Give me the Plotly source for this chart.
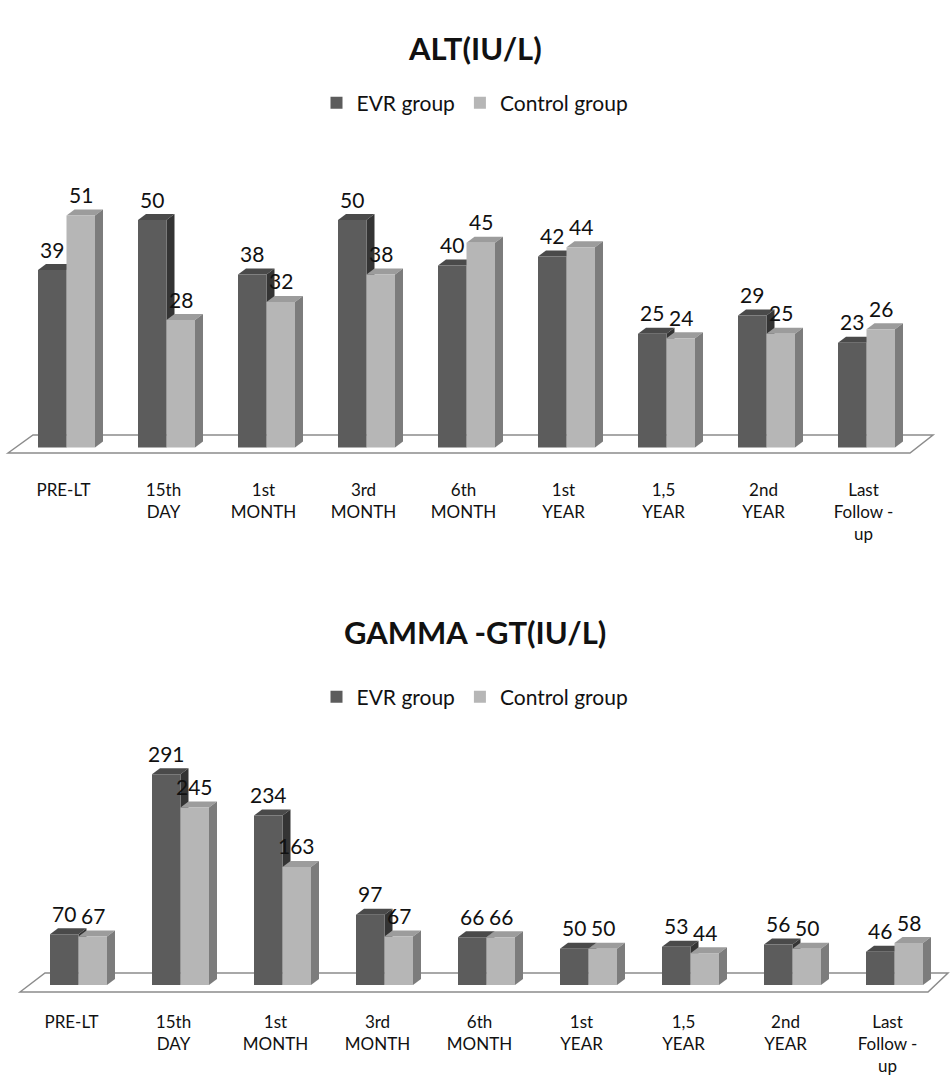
import plotly.graph_objects as go

# ---- data -------------------------------------------------------------
categories = ["PRE-LT", "15th<br>DAY", "1st<br>MONTH", "3rd<br>MONTH", "6th<br>MONTH",
              "1st<br>YEAR", "1,5<br>YEAR", "2nd<br>YEAR", "Last<br>Follow -<br>up"]
series_names = ["EVR group", "Control group"]

alt_evr = [39, 50, 38, 50, 40, 42, 25, 29, 23]
alt_control = [51, 28, 32, 38, 45, 44, 24, 25, 26]

ggt_evr = [70, 291, 234, 97, 66, 50, 53, 56, 46]
ggt_control = [67, 245, 163, 67, 66, 50, 44, 50, 58]

# ---- styling ----------------------------------------------------------
W, H = 950, 1088
FONT = "Lato, 'Open Sans', sans-serif"
FRONT = ["#5c5c5c", "#b6b6b6"]
TOP = ["#4a4a4a", "#9c9c9c"]
SIDE = ["#343434", "#7c7c7c"]
FLOOR_LINE = "#8c8c8c"
DEPTH_X, DEPTH_Y = 8, 6          # pixel depth of the pseudo-3D columns
BAR_PX = 28.5                    # pixel width of one column face
LABEL_LIFT = 21                  # value label distance above a column

panels = [
    dict(title="ALT(IU/L)", values=[alt_evr, alt_control],
         c0=66.5, step=100, base=447.5, ppu=4.55, top=130, bottom=478,
         title_y=48, legend_y=103, tick_shift=-3,
         floor=dict(fl=8, bl=33, br=933, fr=910, front=453, back=435)),
    dict(title="GAMMA -GT(IU/L)", values=[ggt_evr, ggt_control],
         c0=78.5, step=102, base=985, ppu=0.724, top=700, bottom=1010,
         title_y=632, legend_y=697, tick_shift=-7,
         floor=dict(fl=20, bl=45, br=948, fr=928, front=992, back=973)),
]

fig = go.Figure()
shapes, annotations = [], []
layout_axes = {}

for p_i, p in enumerate(panels):
    sfx = "" if p_i == 0 else str(p_i + 1)
    xa, ya = "x" + sfx, "y" + sfx
    lg = "legend" + sfx
    step, ppu, base = p["step"], p["ppu"], p["base"]

    # pixel -> data helpers for this panel
    def px_x(px, c0=p["c0"], step=step):
        return (px - c0) / step

    def px_y(py, base=base, ppu=ppu):
        return (base - py) / ppu

    w = BAR_PX / step
    dx = DEPTH_X / step
    dy = DEPTH_Y / ppu
    idx = list(range(len(categories)))

    # floor plane
    f = p["floor"]
    shapes.append(dict(
        type="path", xref=xa, yref=ya, layer="below",
        path=(f"M{px_x(f['fl'])},{px_y(f['front'])} L{px_x(f['bl'])},{px_y(f['back'])} "
              f"L{px_x(f['br'])},{px_y(f['back'])} L{px_x(f['fr'])},{px_y(f['front'])} Z"),
        fillcolor="white", line=dict(color=FLOOR_LINE, width=1.5)))

    for s, vals in enumerate(p["values"]):
        offset = -w if s == 0 else 0.0
        fig.add_trace(go.Bar(
            x=idx, y=vals, width=w, offset=offset, name=series_names[s],
            marker=dict(color=FRONT[s], line=dict(width=0)),
            xaxis=xa, yaxis=ya, legend=lg, hoverinfo="skip"))
        for i, v in zip(idx, vals):
            xl = i + offset
            xr = xl + w
            # top face
            shapes.append(dict(
                type="path", xref=xa, yref=ya, layer="below",
                path=f"M{xl},{v} L{xr},{v} L{xr + dx},{v + dy} L{xl + dx},{v + dy} Z",
                fillcolor=TOP[s], line=dict(width=0)))
            # side face
            shapes.append(dict(
                type="path", xref=xa, yref=ya, layer="below",
                path=f"M{xr},0 L{xr + dx},{dy} L{xr + dx},{v + dy} L{xr},{v} Z",
                fillcolor=SIDE[s], line=dict(width=0)))
            annotations.append(dict(
                x=xl + w / 2, y=v, xref=xa, yref=ya, text=str(v), showarrow=False,
                yshift=LABEL_LIFT, font=dict(family=FONT, size=21, color="#111111")))

    annotations.append(dict(
        x=0.5, y=1 - p["title_y"] / H, xref="paper", yref="paper", text=f"<b>{p['title']}</b>",
        showarrow=False, xanchor="center", yanchor="middle",
        font=dict(family=FONT, size=31, color="#111111")))

    layout_axes["xaxis" + sfx] = dict(
        domain=[0, 1], range=[px_x(0), px_x(W)], tickvals=idx, ticktext=categories,
        ticks="", showgrid=False, zeroline=False, showline=False,
        ticklabelshift=p["tick_shift"],
        tickfont=dict(family=FONT, size=17, color="#111111"),
        anchor=ya, fixedrange=True)
    layout_axes["yaxis" + sfx] = dict(
        domain=[1 - p["bottom"] / H, 1 - p["top"] / H],
        range=[px_y(p["bottom"]), px_y(p["top"])],
        visible=False, anchor=xa, fixedrange=True)
    layout_axes[lg] = dict(
        orientation="h", x=0.5, xanchor="center", y=1 - p["legend_y"] / H, yanchor="middle",
        itemwidth=30,
        font=dict(family=FONT, size=21, color="#111111"), bgcolor="rgba(0,0,0,0)")

fig.update_layout(
    width=W, height=H, autosize=False,
    margin=dict(l=0, r=0, t=0, b=0),
    paper_bgcolor="white", plot_bgcolor="white",
    barmode="overlay", showlegend=True,
    shapes=shapes, annotations=annotations,
    **layout_axes)

fig.write_html("out.html")
